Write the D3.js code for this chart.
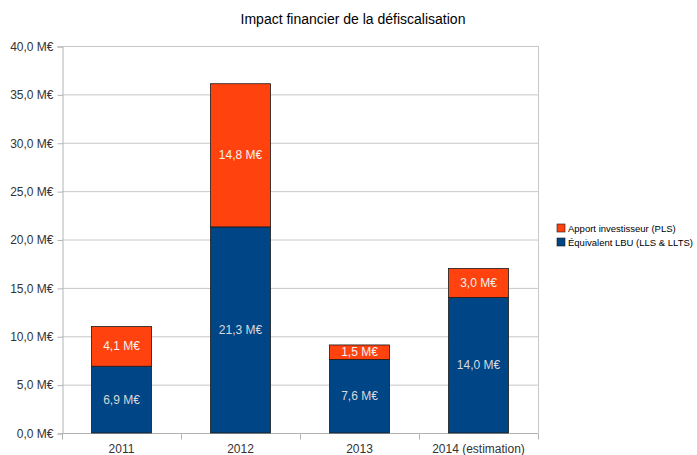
<!DOCTYPE html>
<html lang="fr">
<head>
<meta charset="utf-8">
<title>Impact financier de la défiscalisation</title>
<script src="https://d3js.org/d3.v7.min.js"></script>
<style>
  body { margin: 0; background: #fff; }
  text { font-family: "Liberation Sans", Arial, sans-serif; }
</style>
</head>
<body>
<script>
  // data
  var categories = ["2011", "2012", "2013", "2014 (estimation)"];
  var lbuValues = [6.9, 21.3, 7.6, 14.0];      // Équivalent LBU (LLS & LLTS)
  var plsValues = [4.1, 14.8, 1.5, 3.0];       // Apport investisseur (PLS)
  var seriesNames = ["Apport investisseur (PLS)", "Équivalent LBU (LLS & LLTS)"];
  var yTicks = [0, 5, 10, 15, 20, 25, 30, 35, 40];

  var width = 697, height = 455;
  var plotLeft = 62, plotRight = 538, plotTop = 46, plotBottom = 433;

  var fmt = function(v) { return d3.format(".1f")(v).replace(".", ",") + " M€"; };

  var svg = d3.select("body").append("svg")
      .attr("width", width)
      .attr("height", height);

  var x = d3.scaleBand().domain(categories).range([plotLeft, plotRight]).paddingInner(0).paddingOuter(0);
  var y = d3.scaleLinear().domain([0, 40]).range([plotBottom, plotTop]);

  // gridlines
  svg.append("g").selectAll("line")
      .data(yTicks)
      .enter().append("line")
      .attr("x1", plotLeft).attr("x2", plotRight)
      .attr("y1", function(d) { return y(d) + 0.5; })
      .attr("y2", function(d) { return y(d) + 0.5; })
      .attr("stroke", "#c8c8c8");

  // right border of plot area
  svg.append("line")
      .attr("x1", plotRight + 0.5).attr("x2", plotRight + 0.5)
      .attr("y1", plotTop).attr("y2", plotBottom)
      .attr("stroke", "#c8c8c8");

  // y axis
  var yAxis = svg.append("g")
      .attr("transform", "translate(" + (plotLeft + 0.5) + ",0.5)")
      .call(d3.axisLeft(y).tickValues(yTicks).tickSize(5).tickPadding(4).tickFormat(fmt));
  yAxis.select(".domain").attr("stroke", "#b3b3b3");
  yAxis.selectAll(".tick line").attr("stroke", "#b3b3b3");
  yAxis.selectAll("text").attr("fill", "#333").style("font-size", "12px")
      .style("font-family", "'Liberation Sans', Arial, sans-serif");

  // x axis with ticks at band boundaries
  var xAxis = svg.append("g").attr("transform", "translate(0," + (plotBottom + 0.5) + ")");
  xAxis.append("line").attr("x1", plotLeft).attr("x2", plotRight).attr("stroke", "#b3b3b3");
  xAxis.selectAll(".bt")
      .data(d3.range(categories.length + 1))
      .enter().append("line")
      .attr("x1", function(i) { return plotLeft + i * x.bandwidth() + 0.5; })
      .attr("x2", function(i) { return plotLeft + i * x.bandwidth() + 0.5; })
      .attr("y1", 0).attr("y2", 6)
      .attr("stroke", "#b3b3b3");
  xAxis.selectAll(".lbl")
      .data(categories)
      .enter().append("text")
      .attr("x", function(d) { return x(d) + x.bandwidth() / 2; })
      .attr("y", 19)
      .attr("text-anchor", "middle")
      .attr("fill", "#333")
      .style("font-size", "12px")
      .text(function(d) { return d; });

  var barW = 60;
  var bars = svg.append("g");

  categories.forEach(function(c, i) {
    var cx = x(c) + x.bandwidth() / 2;
    var a = lbuValues[i], b = plsValues[i];
    bars.append("rect")
        .attr("x", cx - barW / 2).attr("width", barW)
        .attr("y", y(a)).attr("height", y(0) - y(a))
        .attr("fill", "#004586").attr("stroke", "#1a1a1a").attr("stroke-width", 0.8);
    bars.append("rect")
        .attr("x", cx - barW / 2).attr("width", barW)
        .attr("y", y(a + b)).attr("height", y(a) - y(a + b))
        .attr("fill", "#ff420e").attr("stroke", "#1a1a1a").attr("stroke-width", 0.8);
    bars.append("text")
        .attr("x", cx).attr("y", y(a / 2) + 4)
        .attr("text-anchor", "middle").attr("fill", "#d9d9d9")
        .style("font-size", "12px").text(fmt(a));
    bars.append("text")
        .attr("x", cx).attr("y", y(a + b / 2) + 4)
        .attr("text-anchor", "middle").attr("fill", "#f2f2f2")
        .style("font-size", "12px").text(fmt(b));
  });

  // title
  svg.append("text")
      .attr("x", 353).attr("y", 24)
      .attr("text-anchor", "middle")
      .attr("fill", "#000")
      .style("font-size", "14px")
      .text("Impact financier de la défiscalisation");

  // legend
  var legColors = ["#ff420e", "#004586"];
  var leg = svg.append("g").attr("transform", "translate(557,224)");
  seriesNames.forEach(function(n, i) {
    leg.append("rect")
        .attr("x", 0).attr("y", i * 14).attr("width", 8).attr("height", 8)
        .attr("fill", legColors[i]).attr("stroke", "#1a1a1a").attr("stroke-width", 0.6);
    leg.append("text")
        .attr("x", 11).attr("y", i * 14 + 8)
        .attr("fill", "#000")
        .style("font-size", "9.5px")
        .text(n);
  });
</script>
</body>
</html>
